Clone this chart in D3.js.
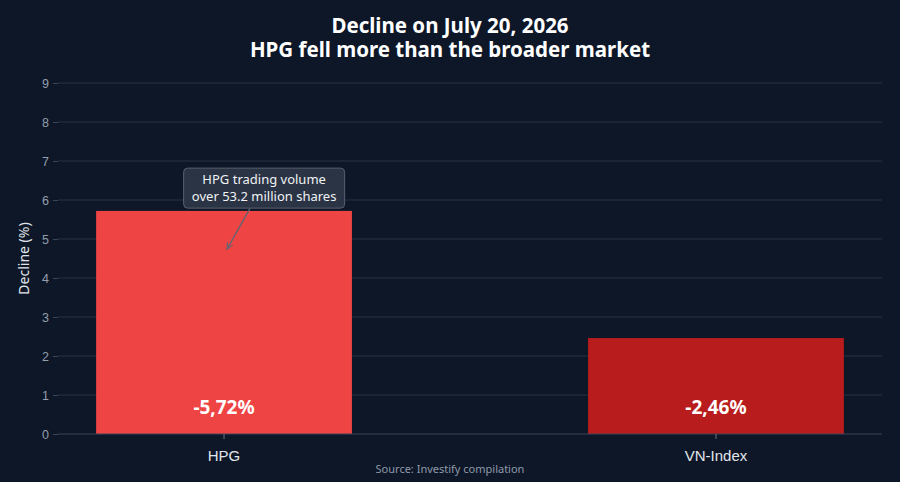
<!DOCTYPE html>
<html>
<head>
<meta charset="utf-8">
<script src="https://cdn.jsdelivr.net/npm/d3@7"></script>
<style>
  body { margin: 0; background: #0d1728; }
  svg { display: block; font-family: "Noto Sans", "Open Sans", sans-serif; }
</style>
</head>
<body>
<svg id="chart" width="900" height="482"></svg>
<script>
// chart data
var categories = ['HPG', 'VN-Index'];
var declines = [5.72, 2.46];
var barLabels = ['-5,72%', '-2,46%'];
var barColors = ['#ef4444', '#b91c1c'];
var yTicks = [0, 1, 2, 3, 4, 5, 6, 7, 8, 9];
var titleLines = ['Decline on July 20, 2026', 'HPG fell more than the broader market'];
var noteLines = ['HPG trading volume', 'over 53.2 million shares'];
var noteTarget = { cat: 'HPG', value: 4.74 };

var margin = { top: 83, right: 18, bottom: 48, left: 58 };
var W = 900, H = 482;
var innerW = W - margin.left - margin.right;
var innerH = H - margin.top - margin.bottom;

var svg = d3.select('#chart');
svg.append('rect').attr('width', W).attr('height', H).attr('fill', '#0d1728');

var g = svg.append('g').attr('transform', 'translate(' + margin.left + ',' + margin.top + ')');

var x = d3.scaleBand()
  .domain(categories)
  .range([0, innerW])
  .paddingInner(0.48)
  .paddingOuter(0.0775);

var y = d3.scaleLinear().domain([0, 9]).range([innerH, 0]);

// gridlines
g.selectAll('.grid')
  .data(yTicks.slice(1))
  .enter()
  .append('line')
  .attr('x1', 0).attr('x2', innerW)
  .attr('y1', function(d){ return y(d); })
  .attr('y2', function(d){ return y(d); })
  .attr('stroke', '#273244')
  .attr('stroke-width', 1);

// y axis
var yAxis = g.append('g')
  .call(d3.axisLeft(y).tickValues(yTicks).tickSize(5).tickPadding(4));
yAxis.select('.domain').remove();
yAxis.selectAll('line').attr('stroke', '#3a4556');
yAxis.selectAll('text').attr('fill', '#949eac').style('font-size', '12.5px');

// bars
g.selectAll('.bar')
  .data(declines)
  .enter()
  .append('rect')
  .attr('x', function(d, i){ return x(categories[i]); })
  .attr('y', function(d){ return y(d); })
  .attr('width', x.bandwidth())
  .attr('height', function(d){ return innerH - y(d); })
  .attr('fill', function(d, i){ return barColors[i]; });

// zero line
g.append('line')
  .attr('x1', 0).attr('x2', innerW)
  .attr('y1', y(0)).attr('y2', y(0))
  .attr('stroke', '#3a4556');

// x axis
var xAxis = g.append('g')
  .attr('transform', 'translate(0,' + innerH + ')')
  .call(d3.axisBottom(x).tickSize(5).tickPadding(11));
xAxis.select('.domain').remove();
xAxis.selectAll('line').attr('stroke', '#6b7585');
xAxis.selectAll('text').attr('fill', '#e2e6ec').style('font-size', '15px');

// bar value labels
g.selectAll('.val')
  .data(barLabels)
  .enter()
  .append('text')
  .attr('x', function(d, i){ return x(categories[i]) + x.bandwidth() / 2; })
  .attr('y', innerH - 20)
  .attr('text-anchor', 'middle')
  .attr('fill', '#ffffff')
  .style('font-size', '19px')
  .style('font-weight', 'bold')
  .text(function(d){ return d; });

// y axis title
svg.append('text')
  .attr('transform', 'translate(29,' + (margin.top + innerH / 2) + ') rotate(-90)')
  .attr('text-anchor', 'middle')
  .attr('fill', '#e2e6ec')
  .style('font-size', '14px')
  .text('Decline (%)');

// title
svg.selectAll('.title')
  .data(titleLines)
  .enter()
  .append('text')
  .attr('x', W / 2)
  .attr('y', function(d, i){ return 33 + i * 24; })
  .attr('text-anchor', 'middle')
  .attr('fill', '#ffffff')
  .style('font-size', '20.5px')
  .style('font-weight', 'bold')
  .text(function(d){ return d; });

// source
svg.append('text')
  .attr('x', W / 2)
  .attr('y', 473)
  .attr('text-anchor', 'middle')
  .attr('fill', '#8f99a8')
  .style('font-size', '11px')
  .text('Source: Investify compilation');

// annotation
var defs = svg.append('defs');
defs.append('marker')
  .attr('id', 'arrow')
  .attr('viewBox', '0 0 10 10')
  .attr('refX', 9).attr('refY', 5)
  .attr('markerWidth', 6).attr('markerHeight', 6)
  .attr('orient', 'auto')
  .append('path')
  .attr('d', 'M0,1 L9,5 L0,9')
  .attr('fill', 'none')
  .attr('stroke', '#5b6575')
  .attr('stroke-width', 1.5);

var tx = x(noteTarget.cat) + x.bandwidth() / 2 + 3;
var ty = y(noteTarget.value);
var boxCx = x(noteTarget.cat) + 168;
var boxW = 161, boxH = 40, boxBottom = ty - 41;

g.append('line')
  .attr('x1', boxCx - 14).attr('y1', boxBottom)
  .attr('x2', tx).attr('y2', ty)
  .attr('stroke', '#5b6575')
  .attr('stroke-width', 1.2)
  .attr('marker-end', 'url(#arrow)');

g.append('rect')
  .attr('x', boxCx - boxW / 2)
  .attr('y', boxBottom - boxH)
  .attr('width', boxW)
  .attr('height', boxH)
  .attr('rx', 4)
  .attr('fill', '#2a3444')
  .attr('stroke', '#56606f')
  .attr('stroke-width', 1);

g.selectAll('.note')
  .data(noteLines)
  .enter()
  .append('text')
  .attr('x', boxCx)
  .attr('y', function(d, i){ return boxBottom - boxH + 16 + i * 16.5; })
  .attr('text-anchor', 'middle')
  .attr('fill', '#f0f2f5')
  .style('font-size', '13px')
  .text(function(d){ return d; });
</script>
</body>
</html>
